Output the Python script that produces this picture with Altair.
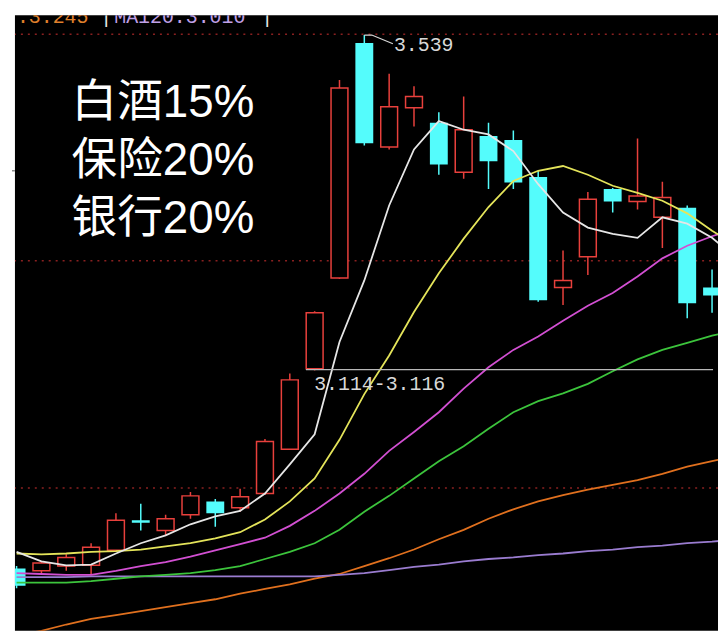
import altair as alt
import pandas as pd

# ---- candle data (index = trading day) ----
idx = list(range(29))
open_ = [2.863, 2.860, 2.866, 2.867, 2.886, 2.924, 2.911, 2.931, 2.948, 2.940,
         2.958, 3.014, 3.116, 3.231, 3.529, 3.397, 3.447, 3.428, 3.365, 3.411,
         3.406, 3.359, 3.219, 3.258, 3.344, 3.328, 3.308, 3.320, 3.219]
close = [2.841, 2.870, 2.877, 2.890, 2.924, 2.921, 2.926, 2.955, 2.933, 2.954,
         3.024, 3.102, 3.187, 3.472, 3.402, 3.448, 3.461, 3.375, 3.419, 3.379,
         3.352, 3.203, 3.228, 3.331, 3.328, 3.335, 3.333, 3.199, 3.209]
high = [2.866, 2.872, 2.881, 2.895, 2.933, 2.945, 2.931, 2.960, 2.951, 2.964,
        3.027, 3.110, 3.189, 3.482, 3.539, 3.490, 3.474, 3.441, 3.461, 3.428,
        3.418, 3.367, 3.266, 3.340, 3.345, 3.408, 3.353, 3.323, 3.242]
low = [2.838, 2.855, 2.860, 2.856, 2.885, 2.911, 2.905, 2.926, 2.916, 2.935,
       2.956, 3.013, 3.114, 3.230, 3.399, 3.394, 3.423, 3.362, 3.357, 3.344,
       3.344, 3.201, 3.197, 3.235, 3.314, 3.318, 3.269, 3.180, 3.187]

# ---- moving averages ----
ma_idx = list(range(30))
ma5 = [2.884, 2.872, 2.867, 2.868, 2.882, 2.895, 2.905, 2.919, 2.929, 2.936,
       2.958, 2.995, 3.033, 3.150, 3.228, 3.323, 3.394, 3.430, 3.419, 3.413,
       3.392, 3.350, 3.314, 3.295, 3.287, 3.282, 3.308, 3.300, 3.282, 3.256]
ma10 = [2.882, 2.881, 2.882, 2.884, 2.885, 2.887, 2.891, 2.895, 2.901, 2.909,
        2.925, 2.948, 2.977, 3.026, 3.084, 3.133, 3.188, 3.237, 3.281, 3.321,
        3.354, 3.367, 3.373, 3.362, 3.348, 3.339, 3.329, 3.313, 3.291, 3.272]
ma20 = [2.857, 2.856, 2.855, 2.855, 2.860, 2.866, 2.871, 2.878, 2.886, 2.894,
        2.902, 2.917, 2.936, 2.958, 2.983, 3.012, 3.036, 3.061, 3.091, 3.118,
        3.140, 3.157, 3.177, 3.196, 3.212, 3.233, 3.256, 3.272, 3.284, 3.294]
ma30 = [2.845, 2.845, 2.845, 2.847, 2.850, 2.853, 2.855, 2.857, 2.861, 2.866,
        2.875, 2.884, 2.895, 2.912, 2.935, 2.955, 2.977, 2.999, 3.018, 3.040,
        3.061, 3.075, 3.085, 3.097, 3.113, 3.128, 3.140, 3.149, 3.158, 3.165]
ma60 = [2.778, 2.784, 2.792, 2.799, 2.804, 2.809, 2.814, 2.819, 2.824, 2.831,
        2.837, 2.843, 2.850, 2.856, 2.866, 2.876, 2.887, 2.900, 2.912, 2.926,
        2.938, 2.948, 2.956, 2.963, 2.969, 2.975, 2.983, 2.992, 2.999, 3.006]
ma120 = [2.852, 2.852, 2.852, 2.853, 2.853, 2.853, 2.853, 2.853, 2.853, 2.853,
         2.853, 2.853, 2.853, 2.855, 2.857, 2.861, 2.865, 2.868, 2.872, 2.875,
         2.877, 2.880, 2.882, 2.885, 2.887, 2.890, 2.892, 2.895, 2.897, 2.900]

ma_names = ["MA60", "MA120", "MA30", "MA20", "MA10", "MA5"]
ma_colors = ["#e0701e", "#9a7cd0", "#3cc43c", "#d24fd2", "#e4e45a", "#e6e6e6"]
ma_series = [ma60, ma120, ma30, ma20, ma10, ma5]

grid_prices = [3.540, 3.253, 2.965]
big_labels = ["白酒15%", "保险20%", "银行20%"]

# ---- frames ----
candles = pd.DataFrame({"i": idx, "open": open_, "close": close, "high": high, "low": low})
candles["up"] = candles["close"] >= candles["open"]
up = candles[candles["up"]]
down = candles[~candles["up"]]

rows = []
for name, vals in zip(ma_names, ma_series):
    for i, v in zip(ma_idx, vals):
        rows.append({"i": i, "v": v, "s": name})
ma_df = pd.DataFrame(rows)

XS = alt.Scale(domain=[0.134, 28.04], nice=False, zero=False)
YS = alt.Scale(domain=[2.784, 3.5642], nice=False, zero=False)

def X(f):
    return alt.X(f, type="quantitative", scale=XS, axis=None)

def Y(f):
    return alt.Y(f, type="quantitative", scale=YS, axis=None)

RED = "#e8403c"
CYAN = "#54fcfc"

grid = alt.Chart(pd.DataFrame({"p": grid_prices})).mark_rule(
    color="#8a2020", strokeDash=[2, 5], strokeWidth=1.5
).encode(y=Y("p"))

wick_up = alt.Chart(up).mark_rule(color=RED, strokeWidth=1.5, clip=True).encode(
    x=X("i"), y=Y("low"), y2="high")
wick_dn = alt.Chart(down).mark_rule(color=CYAN, strokeWidth=1.5, clip=True).encode(
    x=X("i"), y=Y("low"), y2="high")
body_up = alt.Chart(up).mark_bar(size=17, fill="black", stroke=RED, strokeWidth=1.5,
                                 clip=True).encode(x=X("i"), y=Y("open"), y2="close")
body_dn = alt.Chart(down).mark_bar(size=18, fill=CYAN, clip=True).encode(
    x=X("i"), y=Y("open"), y2="close")

lines = alt.Chart(ma_df).mark_line(strokeWidth=1.8, clip=True).encode(
    x=X("i"), y=Y("v"),
    color=alt.Color("s:N", scale=alt.Scale(domain=ma_names, range=ma_colors), legend=None),
    detail="s:N",
)

# gap / support annotation
gap_df = pd.DataFrame({"x": [11.65], "x2": [28.04], "p": [3.115]})
gap_rule = alt.Chart(gap_df).mark_rule(color="#b8b8b8", strokeWidth=1.2, clip=True).encode(
    x=X("x"), x2="x2", y=Y("p"))
gap_text = alt.Chart(pd.DataFrame({"x": [11.98], "p": [3.097], "t": ["3.114-3.116"]})).mark_text(
    align="left", baseline="middle", font="Liberation Mono", fontSize=20, color="#d8d8d8"
).encode(x=X("x"), y=Y("p"), text="t:N")

# high annotation
hi_df = pd.DataFrame({"x": [14.0, 14.3, 15.15], "p": [3.539, 3.539, 3.528]})
hi_line = alt.Chart(hi_df).mark_line(color="#d8d8d8", strokeWidth=1.2).encode(
    x=X("x"), y=Y("p"), order="x:Q")
hi_text = alt.Chart(pd.DataFrame({"x": [15.19], "p": [3.526], "t": ["3.539"]})).mark_text(
    align="left", baseline="middle", font="Liberation Mono", fontSize=20, color="#d8d8d8"
).encode(x=X("x"), y=Y("p"), text="t:N")

one = pd.DataFrame({"a": [0]})
header = [
    (":3.245", "#e0802c", 2),
    ("|", "#e6e6e6", 86),
    ("MA120:3.010", "#c0a0e8", 100),
    ("|", "#e6e6e6", 248),
]
header_layers = [
    alt.Chart(one).mark_text(align="left", baseline="alphabetic", font="Liberation Mono",
                             fontSize=20, color=c, clip=True).encode(
        x=alt.value(xx), y=alt.value(8), text=alt.value(t))
    for t, c, xx in header
]

left_stub = alt.Chart(pd.DataFrame({"p": [3.367]})).mark_rule(color="#8c8c8c", strokeWidth=1.5).encode(
    x=alt.value(-3), x2=alt.value(0), y=Y("p"))

label_layers = [
    alt.Chart(one).mark_text(align="left", baseline="alphabetic",
                             font="Liberation Sans, Noto Sans CJK SC", fontSize=46,
                             color="white").encode(
        x=alt.value(57), y=alt.value(yy), text=alt.value(t))
    for t, yy in zip(big_labels, [103, 161, 219])
]

chart = alt.layer(
    grid, wick_up, wick_dn, body_up, body_dn, lines, gap_rule, gap_text,
    hi_line, hi_text, left_stub, *header_layers, *label_layers
).properties(
    width=708, height=620, background="white",
    padding={"left": 3, "top": 5, "right": 0, "bottom": 0},
).configure_view(fill="black", strokeWidth=0)

chart.save("out.html", embed_options={"renderer": "svg", "actions": False})
